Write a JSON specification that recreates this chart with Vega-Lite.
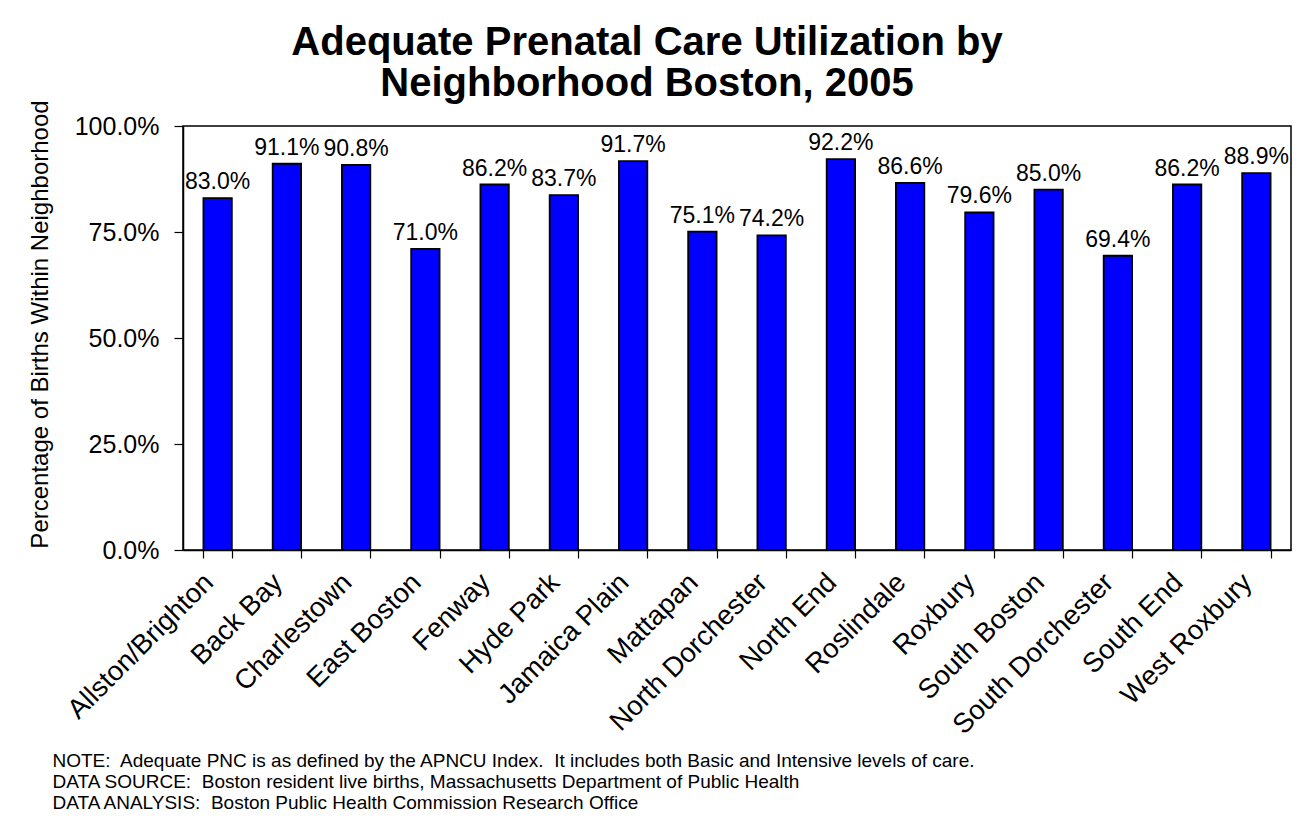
{
  "$schema": "https://vega.github.io/schema/vega-lite/v6.json",
  "width": 1108,
  "height": 424,
  "autosize": {"type": "none"},
  "padding": {"left": 183, "top": 126, "right": 8, "bottom": 288},
  "background": "white",
  "config": {
    "font": "Liberation Sans",
    "view": {"stroke": "black", "strokeWidth": 1.5},
    "axis": {"grid": false, "domainColor": "black", "tickColor": "black", "labelColor": "black", "titleColor": "black", "labelFont": "Liberation Sans", "titleFont": "Liberation Sans", "domainWidth": 1.5, "tickWidth": 1.2}
  },
  "title": {
    "text": ["Adequate Prenatal Care Utilization by", "Neighborhood Boston, 2005"],
    "fontSize": 40,
    "fontWeight": "bold",
    "font": "Liberation Sans",
    "color": "black",
    "lineHeight": 41,
    "anchor": "middle",
    "frame": "group",
    "dx": -90,
    "offset": -4
  },
  "data": {
    "values": [
      {"neighborhood": "Allston/Brighton", "pct": 0.830},
      {"neighborhood": "Back Bay", "pct": 0.911},
      {"neighborhood": "Charlestown", "pct": 0.908},
      {"neighborhood": "East Boston", "pct": 0.710},
      {"neighborhood": "Fenway", "pct": 0.862},
      {"neighborhood": "Hyde Park", "pct": 0.837},
      {"neighborhood": "Jamaica Plain", "pct": 0.917},
      {"neighborhood": "Mattapan", "pct": 0.751},
      {"neighborhood": "North Dorchester", "pct": 0.742},
      {"neighborhood": "North End", "pct": 0.922},
      {"neighborhood": "Roslindale", "pct": 0.866},
      {"neighborhood": "Roxbury", "pct": 0.796},
      {"neighborhood": "South Boston", "pct": 0.850},
      {"neighborhood": "South Dorchester", "pct": 0.694},
      {"neighborhood": "South End", "pct": 0.862},
      {"neighborhood": "West Roxbury", "pct": 0.889}
    ]
  },
  "encoding": {
    "x": {
      "field": "neighborhood",
      "type": "nominal",
      "sort": null,
      "scale": {"paddingInner": 0.59, "paddingOuter": 0.295},
      "axis": {
        "labelAngle": -45,
        "labelAlign": "right",
        "labelBaseline": "middle",
        "labelFontSize": 27.5,
        "labelPadding": 20,
        "labelOffset": -9,
        "tickBand": "extent",
        "tickSize": 8,
        "labelLimit": 400,
        "title": [
          "NOTE:\u00a0 Adequate PNC is as defined by the APNCU Index.\u00a0 It includes both Basic and Intensive levels of care.",
          "DATA SOURCE:\u00a0 Boston resident live births, Massachusetts Department of Public Health",
          "DATA ANALYSIS:\u00a0 Boston Public Health Commission Research Office"
        ],
        "titleFontSize": 19,
        "titleFontWeight": "normal",
        "titleAlign": "left",
        "titleAnchor": "start",
        "titleBaseline": "alphabetic",
        "titleX": -131,
        "titleY": 216,
        "titleLineHeight": 21
      }
    },
    "y": {
      "field": "pct",
      "type": "quantitative",
      "scale": {"domain": [0, 1], "nice": false},
      "axis": {
        "values": [0, 0.25, 0.5, 0.75, 1],
        "format": ".1%",
        "labelFontSize": 25,
        "labelPadding": 15,
        "tickSize": 9,
        "title": "Percentage of Births Within Neighborhood",
        "titleFontSize": 24,
        "titleFontWeight": "normal",
        "titlePadding": 22,
        "titleY": 198
      }
    }
  },
  "layer": [
    {
      "mark": {"type": "bar", "color": "#0000FF", "stroke": "black", "strokeWidth": 1.8}
    },
    {
      "mark": {"type": "text", "baseline": "alphabetic", "dy": -9, "fontSize": 23, "color": "black"},
      "encoding": {
        "text": {"field": "pct", "type": "quantitative", "format": ".1%"}
      }
    }
  ]
}
